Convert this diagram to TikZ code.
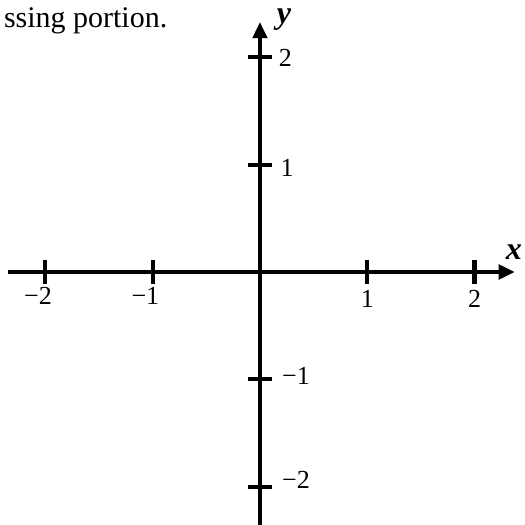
\documentclass[tikz,border=0pt]{standalone}
\usepackage{fontspec}
\setmainfont{Liberation Serif}
\usetikzlibrary{arrows.meta}

\begin{document}
\begin{tikzpicture}[
  axis/.style={line width=1.05pt, -{Triangle[length=4.3pt, width=3.8pt]}},
  tick/.style={line width=1.1pt},
  num/.style={inner sep=0pt, font=\fontsize{6.9}{7}\selectfont},
  axlabel/.style={inner sep=0pt, font=\fontsize{8.5}{9}\selectfont\bfseries\itshape}
]
  \useasboundingbox (-2.423,-2.358) rectangle (2.470,2.535);
  % axes
  \coordinate (xl) at (-2.35,0);
  \coordinate (xr) at (2.376,0);
  \coordinate (yb) at (0,-2.45);
  \coordinate (yt) at (0,2.33);
  \draw[axis] (xl) -- (xr);
  \draw[axis] (yb) -- (yt);
  \node[axlabel] (xlab) at (2.367,0.186) {x};
  \node[axlabel] (ylab) at (0.224,2.349) {y};

  % ticks on x
  \draw[tick] (-2,-0.112) -- (-2,0.112);
  \draw[tick] (-1,-0.112) -- (-1,0.112);
  \draw[tick] (1,-0.112) -- (1,0.112);
  \draw[tick] (2,-0.112) -- (2,0.112);
  \node[num, anchor=north] (xm2) at (-2,-0.14) {\llap{−}2};
  \node[num, anchor=north] (xm1) at (-1,-0.14) {\llap{−}1};
  \node[num, anchor=north] (xp1) at (1,-0.165) {1};
  \node[num, anchor=north] (xp2) at (2,-0.165) {2};

  % ticks on y
  \draw[tick] (-0.112,2) -- (0.112,2);
  \draw[tick] (-0.112,1) -- (0.112,1);
  \draw[tick] (-0.112,-1) -- (0.112,-1);
  \draw[tick] (-0.112,-2) -- (0.112,-2);
  \node[num, anchor=west] (yp2) at (0.17,2) {2};
  \node[num, anchor=west] (yp1) at (0.185,0.97) {1};
  \node[num, anchor=west] (ym1) at (0.2,-0.97) {−1};
  \node[num, anchor=west] (ym2) at (0.2,-1.94) {−2};

  % cut-off caption text
  \node[anchor=base east, inner sep=0pt, font=\fontsize{7.95}{9}\selectfont] (note) at (-0.857,2.283) {ssing portion.};
\end{tikzpicture}
\end{document}
